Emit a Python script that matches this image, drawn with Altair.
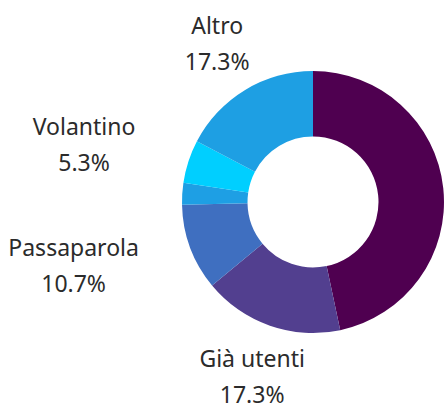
import altair as alt
import pandas as pd

categories = ["Nuovi", "Già utenti", "Passaparola", "Sito web", "Volantino", "Altro"]
counts = [35, 13, 8, 2, 4, 13]
colors = ["#4f0050", "#523f8f", "#3f6fc0", "#1e9fe4", "#00cfff", "#1e9fe3"]

df = pd.DataFrame({"cat": categories, "value": counts, "idx": list(range(len(categories)))})
total = sum(counts)

base = alt.Chart(df).transform_window(
    end="sum(value)", sort=[alt.SortField("idx")], frame=[None, 0]
).transform_calculate(
    start="datum.end - datum.value",
    mid="datum.end - datum.value / 2",
    lines="[datum.cat, format(datum.value / %d * 100, '.1f') + '%%']" % total,
)

tscale = alt.Scale(domain=[0, total], range=[0, 6.283185307179586])

arcs = base.mark_arc(outerRadius=131, innerRadius=65.5, stroke=None).encode(
    theta=alt.Theta("start:Q", scale=tscale),
    theta2="end:Q",
    color=alt.Color("cat:N", scale=alt.Scale(domain=categories, range=colors), legend=None),
)

def label_layer(names, dx):
    return base.transform_filter(
        alt.FieldOneOfPredicate(field="cat", oneOf=names)
    ).mark_text(
        radius=185, font="Noto Sans", fontSize=23, color="#2b2b2b",
        align="center", baseline="middle", lineHeight=36, dy=-17, dx=dx,
    ).encode(
        theta=alt.Theta("mid:Q", scale=tscale),
        text="lines:N",
    )

chart = alt.layer(
    arcs,
    label_layer(["Altro", "Già utenti"], 0),
    label_layer(["Volantino"], -53),
    label_layer(["Passaparola"], -66),
).properties(
    width=264, height=404,
    padding={"left": 181, "top": 0, "right": 0, "bottom": 5},
    autosize="none",
    background="white",
).configure_view(stroke=None)

chart.save("out.html", embed_options={"renderer": "svg", "actions": False})
